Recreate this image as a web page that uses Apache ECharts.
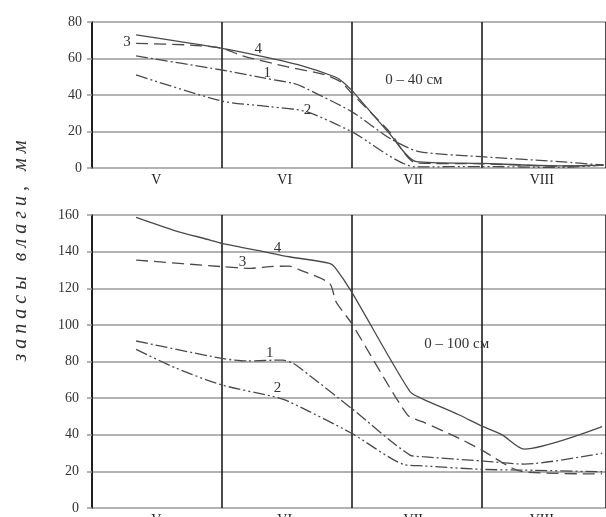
<!DOCTYPE html>
<html>
<head>
<meta charset="utf-8">
<script src="https://cdn.jsdelivr.net/npm/echarts@6/dist/echarts.min.js"></script>
<style>
  html, body { margin: 0; padding: 0; background: #fff; }
  #chart { width: 606px; height: 517px; }
</style>
</head>
<body>
<div id="chart"></div>
<script>
// Month labels (V..VIII); x values are measured in months from the start of May
const months = ['V', 'VI', 'VII', 'VIII'];
const topTicks = [0, 20, 40, 60, 80];
const bottomTicks = [0, 20, 40, 60, 80, 100, 120, 140, 160];

// Soil moisture reserves, layer 0–40 cm: [month position, mm]
const top1 = [[0.34, 61.4], [1.0, 53.7], [1.34, 49.1], [1.55, 46.4], [1.62, 44.6], [2.0, 30.9], [2.3, 16.0], [2.52, 9.0], [3.0, 6.2], [3.6, 3.5], [3.94, 1.6]];
const top2 = [[0.34, 51.0], [1.0, 36.7], [1.37, 33.6], [1.65, 30.9], [2.0, 19.9], [2.5, 0.6], [3.0, 0.8], [3.6, 0.3], [3.94, 1.6]];
const top3 = [[0.34, 68.3], [0.75, 67.4], [1.0, 65.6], [1.16, 61.5], [1.5, 55.5], [1.8, 51.0], [1.92, 47.0], [2.0, 41.0], [2.29, 20.0], [2.5, 2.7], [3.0, 2.3], [3.6, 1.0], [3.94, 1.6]];
const top4 = [[0.34, 72.9], [1.0, 65.6], [1.29, 61.5], [1.6, 56.4], [1.87, 50.0], [1.93, 47.3], [2.0, 42.7], [2.29, 19.0], [2.5, 3.5], [3.0, 2.5], [3.6, 1.2], [3.94, 1.6]];

// Soil moisture reserves, layer 0–100 cm: [month position, mm]
const bot1 = [[0.34, 91.2], [1.0, 81.7], [1.19, 80.3], [1.47, 80.8], [1.55, 79.0], [1.62, 75.5], [2.0, 54.4], [2.45, 28.9], [2.55, 28.0], [3.0, 25.7], [3.33, 24.0], [3.93, 29.9]];
const bot2 = [[0.34, 86.6], [0.65, 76.3], [1.0, 67.2], [1.4, 60.8], [1.52, 58.0], [2.0, 40.8], [2.4, 23.8], [2.55, 23.0], [3.0, 21.1], [3.33, 20.7], [3.93, 19.8]];
const bot3 = [[0.34, 135.4], [1.0, 131.8], [1.22, 130.9], [1.37, 131.8], [1.52, 132.1], [1.6, 130.0], [1.83, 122.7], [1.88, 112.6], [2.0, 100.8], [2.43, 50.8], [2.55, 47.0], [2.83, 38.0], [3.0, 31.7], [3.32, 19.8], [3.93, 18.6]];
const bot4 = [[0.34, 158.7], [0.625, 151.8], [0.91, 146.3], [1.0, 144.5], [1.32, 140.0], [1.52, 137.2], [1.83, 133.6], [1.87, 131.5], [2.0, 118.0], [2.45, 63.5], [2.55, 59.5], [2.83, 50.8], [3.0, 44.8], [3.16, 39.9], [3.33, 32.2], [3.93, 44.4]];

// Curve number labels and layer captions, placed in data coordinates
const topNotes = [['3', 0.27, 69], ['4', 1.28, 65.2], ['1', 1.35, 52], ['2', 1.66, 31.8], ['0 – 40 см', 2.48, 48.2]];
const bottomNotes = [['4', 1.43, 142], ['3', 1.16, 134.3], ['1', 1.37, 84.6], ['2', 1.43, 65.5], ['0 – 100 см', 2.81, 89.5]];

const SERIF = '"Liberation Serif", "DejaVu Serif", serif';
const LINE = '#4a4a4a';
const styles = {
  1: { type: [12, 3, 2, 3], width: 1.3 },
  2: { type: [12, 3, 2, 3, 2, 3], width: 1.3 },
  3: { type: [12, 6], width: 1.3 },
  4: { type: 'solid', width: 1.3 }
};

function valueX(grid) {
  return {
    gridIndex: grid, type: 'value', min: 0, max: 3.96, interval: 1,
    position: 'bottom',
    axisLine: { show: false }, axisTick: { show: false }, axisLabel: { show: false },
    splitLine: { show: true, lineStyle: { color: '#111', width: 1.5 } }
  };
}
function monthX(grid, margin) {
  return {
    gridIndex: grid, type: 'category', data: months, boundaryGap: true,
    position: 'bottom',
    axisLine: { show: false }, axisTick: { show: false },
    axisLabel: { margin: margin, color: '#222', fontFamily: SERIF, fontSize: 14 },
    splitLine: { show: false }
  };
}
function valueY(grid, ticks, margin) {
  return {
    gridIndex: grid, type: 'value', min: ticks[0], max: ticks[ticks.length - 1],
    interval: ticks[1] - ticks[0],
    axisLine: { show: true, lineStyle: { color: '#111', width: 1.5 } },
    axisTick: { show: true, length: 5, lineStyle: { color: '#999', width: 1.5 } },
    axisLabel: { margin: margin, color: '#333', fontFamily: SERIF, fontSize: 14 },
    splitLine: { show: true, lineStyle: { color: '#9a9a9a', width: 1.5 } }
  };
}

function notePoints(notes) {
  return {
    symbol: 'circle', symbolSize: 2, silent: true,
    itemStyle: { color: 'rgba(0,0,0,0)' },
    label: { show: true, position: 'inside', formatter: p => p.name, color: '#333', fontFamily: SERIF, fontSize: 15 },
    data: notes.map(n => ({ name: n[0], coord: [n[1], n[2]] }))
  };
}

function line(data, num, grid, notes) {
  const s = {
    type: 'line', data: data, xAxisIndex: grid * 2, yAxisIndex: grid,
    showSymbol: false, smooth: 0.25, silent: true,
    lineStyle: Object.assign({ color: LINE }, styles[num])
  };
  if (notes) s.markPoint = notePoints(notes);
  return s;
}

const chart = echarts.init(document.getElementById('chart'), null, { renderer: 'canvas' });
chart.setOption({
  animation: false,
  backgroundColor: '#fff',
  grid: [
    { left: 92, right: 0, top: 22, bottom: 349, outerBoundsMode: 'none', containLabel: false },
    { left: 92, right: 0, top: 215, bottom: 9, outerBoundsMode: 'none', containLabel: false }
  ],
  xAxis: [valueX(0), monthX(0, 5), valueX(1), monthX(1, 5)],
  yAxis: [valueY(0, topTicks, 10), valueY(1, bottomTicks, 13)],
  graphic: [{
    type: 'text', x: 21, y: 251, rotation: Math.PI / 2,
    style: {
      text: 'з а п а с ы   в л а г и ,   м м',
      fill: '#333', font: 'italic 20px ' + SERIF,
      align: 'center', verticalAlign: 'middle'
    }
  }],
  series: [
    line(top1, 1, 0), line(top2, 2, 0), line(top3, 3, 0), line(top4, 4, 0, topNotes),
    line(bot1, 1, 1), line(bot2, 2, 1), line(bot3, 3, 1), line(bot4, 4, 1, bottomNotes)
  ]
});
</script>
</body>
</html>
